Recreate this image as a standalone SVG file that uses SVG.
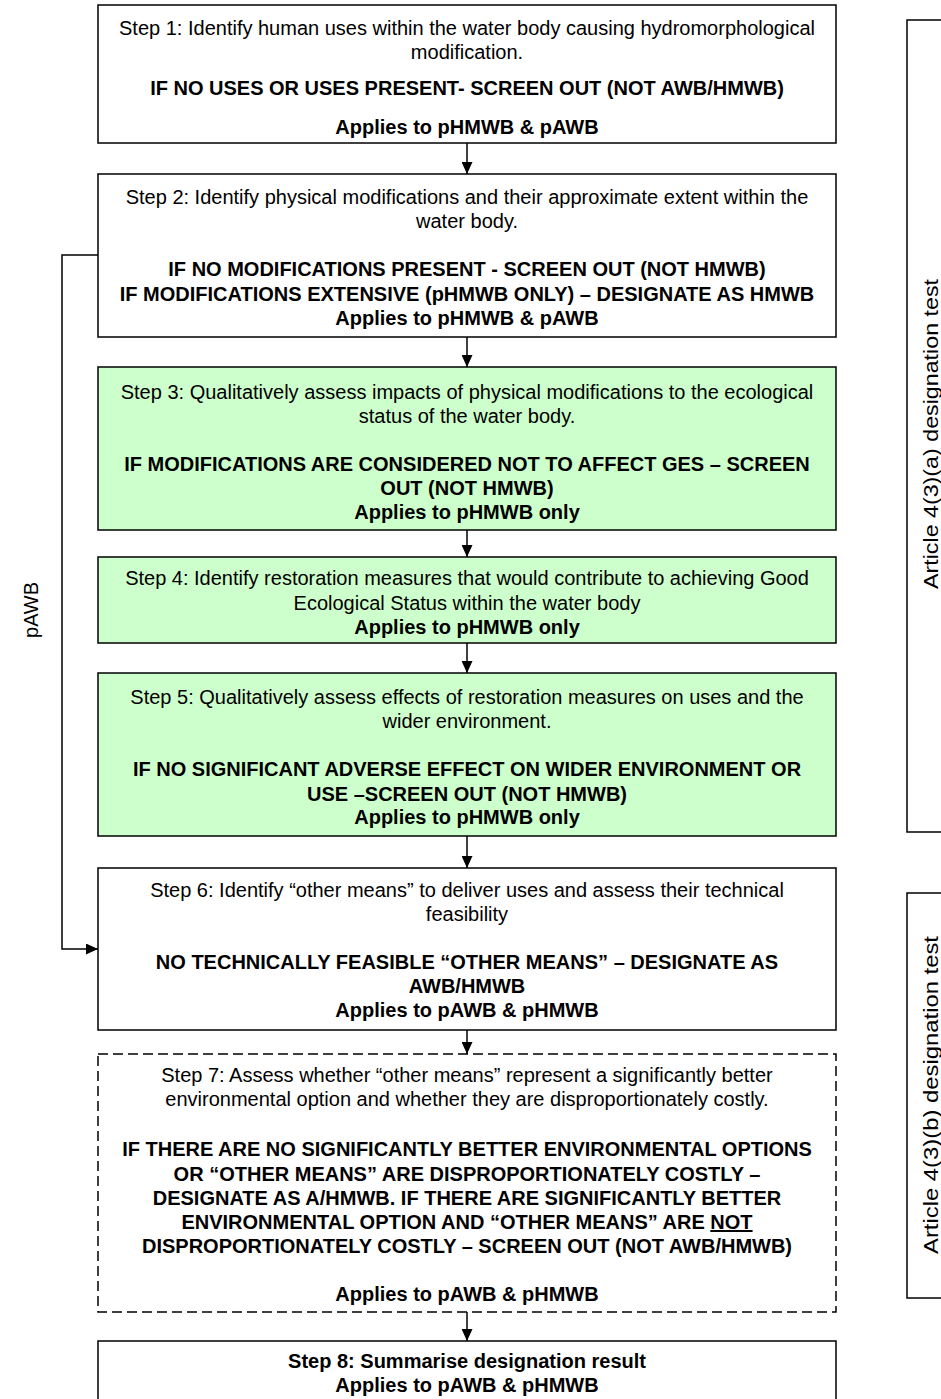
<svg xmlns="http://www.w3.org/2000/svg" width="941" height="1399" viewBox="0 0 941 1399">
<style>
.box{fill:#fff;stroke:#000;stroke-width:1.5}
.green{fill:#ccffcc;stroke:#000;stroke-width:1.5}
.dash{fill:#fff;stroke:#000;stroke-width:1.5;stroke-dasharray:10 5}
text{font-family:"Liberation Sans",Arial,sans-serif;font-size:20px;fill:#000;text-anchor:middle}
.b{font-weight:bold}
.side{font-size:20px}
.con{fill:none;stroke:#000;stroke-width:1.5}
</style>
<defs>
<marker id="arr" viewBox="0 0 12 11" refX="12" refY="5.5" markerWidth="12" markerHeight="11" markerUnits="userSpaceOnUse" orient="auto">
<path d="M0,0 L12,5.5 L0,11 Z" fill="#000"/>
</marker>
</defs>
<g id="connectors">
<line class="con" x1="467" y1="143" x2="467" y2="174" marker-end="url(#arr)"/>
<line class="con" x1="467" y1="337" x2="467" y2="367" marker-end="url(#arr)"/>
<line class="con" x1="467" y1="530" x2="467" y2="557" marker-end="url(#arr)"/>
<line class="con" x1="467" y1="643" x2="467" y2="673" marker-end="url(#arr)"/>
<line class="con" x1="467" y1="836" x2="467" y2="868" marker-end="url(#arr)"/>
<line class="con" x1="467" y1="1030" x2="467" y2="1054" marker-end="url(#arr)"/>
<line class="con" x1="467" y1="1312" x2="467" y2="1341" marker-end="url(#arr)"/>
<polyline class="con" points="98,255 62,255 62,949 98,949" marker-end="url(#arr)"/>
</g>
<g id="step1">
<rect class="box" x="98" y="5" width="738" height="138"/>
<text x="467" y="35">Step 1: Identify human uses within the water body causing hydromorphological</text>
<text x="467" y="59">modification.</text>
<text x="467" y="95" class="b">IF NO USES OR USES PRESENT- SCREEN OUT (NOT AWB/HMWB)</text>
<text x="467" y="134" class="b">Applies to pHMWB &amp; pAWB</text>
</g>
<g id="step2">
<rect class="box" x="98" y="174" width="738" height="163"/>
<text x="467" y="204">Step 2: Identify physical modifications and their approximate extent within the</text>
<text x="467" y="228">water body.</text>
<text x="467" y="276" class="b">IF NO MODIFICATIONS PRESENT - SCREEN OUT (NOT HMWB)</text>
<text x="467" y="301" class="b">IF MODIFICATIONS EXTENSIVE (pHMWB ONLY) – DESIGNATE AS HMWB</text>
<text x="467" y="325" class="b">Applies to pHMWB &amp; pAWB</text>
</g>
<g id="step3">
<rect class="green" x="98" y="367" width="738" height="163"/>
<text x="467" y="399">Step 3: Qualitatively assess impacts of physical modifications to the ecological</text>
<text x="467" y="423">status of the water body.</text>
<text x="467" y="471" class="b">IF MODIFICATIONS ARE CONSIDERED NOT TO AFFECT GES – SCREEN</text>
<text x="467" y="495" class="b">OUT (NOT HMWB)</text>
<text x="467" y="519" class="b">Applies to pHMWB only</text>
</g>
<g id="step4">
<rect class="green" x="98" y="557" width="738" height="86"/>
<text x="467" y="585">Step 4: Identify restoration measures that would contribute to achieving Good</text>
<text x="467" y="610">Ecological Status within the water body</text>
<text x="467" y="634" class="b">Applies to pHMWB only</text>
</g>
<g id="step5">
<rect class="green" x="98" y="673" width="738" height="163"/>
<text x="467" y="704">Step 5: Qualitatively assess effects of restoration measures on uses and the</text>
<text x="467" y="728">wider environment.</text>
<text x="467" y="776" class="b">IF NO SIGNIFICANT ADVERSE EFFECT ON WIDER ENVIRONMENT OR</text>
<text x="467" y="801" class="b">USE –SCREEN OUT (NOT HMWB)</text>
<text x="467" y="824" class="b">Applies to pHMWB only</text>
</g>
<g id="step6">
<rect class="box" x="98" y="868" width="738" height="162"/>
<text x="467" y="897">Step 6: Identify “other means” to deliver uses and assess their technical</text>
<text x="467" y="921">feasibility</text>
<text x="467" y="969" class="b">NO TECHNICALLY FEASIBLE “OTHER MEANS” – DESIGNATE AS</text>
<text x="467" y="993" class="b">AWB/HMWB</text>
<text x="467" y="1017" class="b">Applies to pAWB &amp; pHMWB</text>
</g>
<g id="step7">
<rect class="dash" x="98" y="1054" width="738" height="258"/>
<text x="467" y="1082">Step 7: Assess whether “other means” represent a significantly better</text>
<text x="467" y="1106">environmental option and whether they are disproportionately costly.</text>
<text x="467" y="1156" class="b">IF THERE ARE NO SIGNIFICANTLY BETTER ENVIRONMENTAL OPTIONS</text>
<text x="467" y="1181" class="b">OR “OTHER MEANS” ARE DISPROPORTIONATELY COSTLY –</text>
<text x="467" y="1205" class="b">DESIGNATE AS A/HMWB. IF THERE ARE SIGNIFICANTLY BETTER</text>
<text x="467" y="1229" class="b">ENVIRONMENTAL OPTION AND “OTHER MEANS” ARE <tspan text-decoration="underline">NOT</tspan></text>
<text x="467" y="1253" class="b">DISPROPORTIONATELY COSTLY – SCREEN OUT (NOT AWB/HMWB)</text>
<text x="467" y="1301" class="b">Applies to pAWB &amp; pHMWB</text>
</g>
<g id="step8">
<rect class="box" x="98" y="1341" width="738" height="70"/>
<text x="467" y="1368" class="b">Step 8: Summarise designation result</text>
<text x="467" y="1392" class="b">Applies to pAWB &amp; pHMWB</text>
</g>
<g id="test-a">
<rect class="box" x="907" y="20" width="50" height="812"/>
<text class="side" transform="translate(938,434) rotate(-90)" textLength="310" lengthAdjust="spacingAndGlyphs">Article 4(3)(a) designation test</text>
</g>
<g id="test-b">
<rect class="box" x="907" y="893" width="50" height="405"/>
<text class="side" transform="translate(938,1095) rotate(-90)" textLength="318" lengthAdjust="spacingAndGlyphs">Article 4(3)(b) designation test</text>
</g>
<g id="pawb-label">
<text transform="translate(38,610) rotate(-90)">pAWB</text>
</g>
</svg>
